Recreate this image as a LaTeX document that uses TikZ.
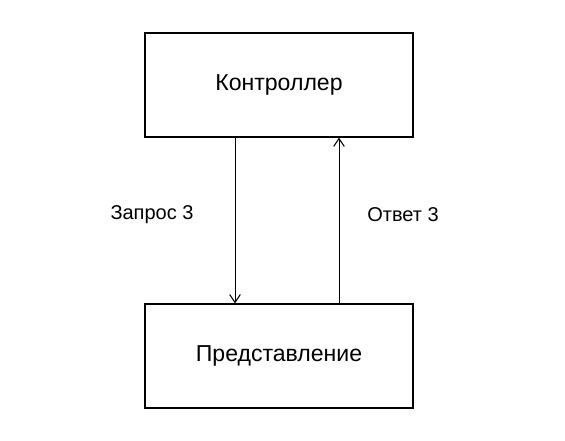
\documentclass[tikz,border=0pt]{standalone}
\usepackage{fontspec}
\setmainfont{Liberation Sans}
\usetikzlibrary{arrows.meta}
\begin{document}
\begin{tikzpicture}[x=0.75pt,y=-0.75pt,
  blk/.style={draw,line width=0.9pt,minimum width=201pt,minimum height=78pt,inner sep=0pt,font=\fontsize{17.3}{19}\selectfont},
  lbl/.style={font=\fontsize{15}{17}\selectfont,inner sep=0pt},
  conn/.style={line width=0.75pt,-{Straight Barb[length=6pt,width=8pt,line width=0.75pt]}}]
\useasboundingbox (0,0) rectangle (565,441);
\node[blk] (ctrl) at (279,85) {Контроллер};
\node[blk] (view) at (279,356) {Представление};
\coordinate (a1) at (235,0);
\coordinate (a2) at (339,0);
\draw[conn] (ctrl.south -| a1) -- (view.north -| a1);
\draw[conn] (view.north -| a2) -- (ctrl.south -| a2);
\node[lbl] (req) at (152,215) {Запрос 3};
\node[lbl] (resp) at (403,215) {Ответ 3};
\end{tikzpicture}
\end{document}
